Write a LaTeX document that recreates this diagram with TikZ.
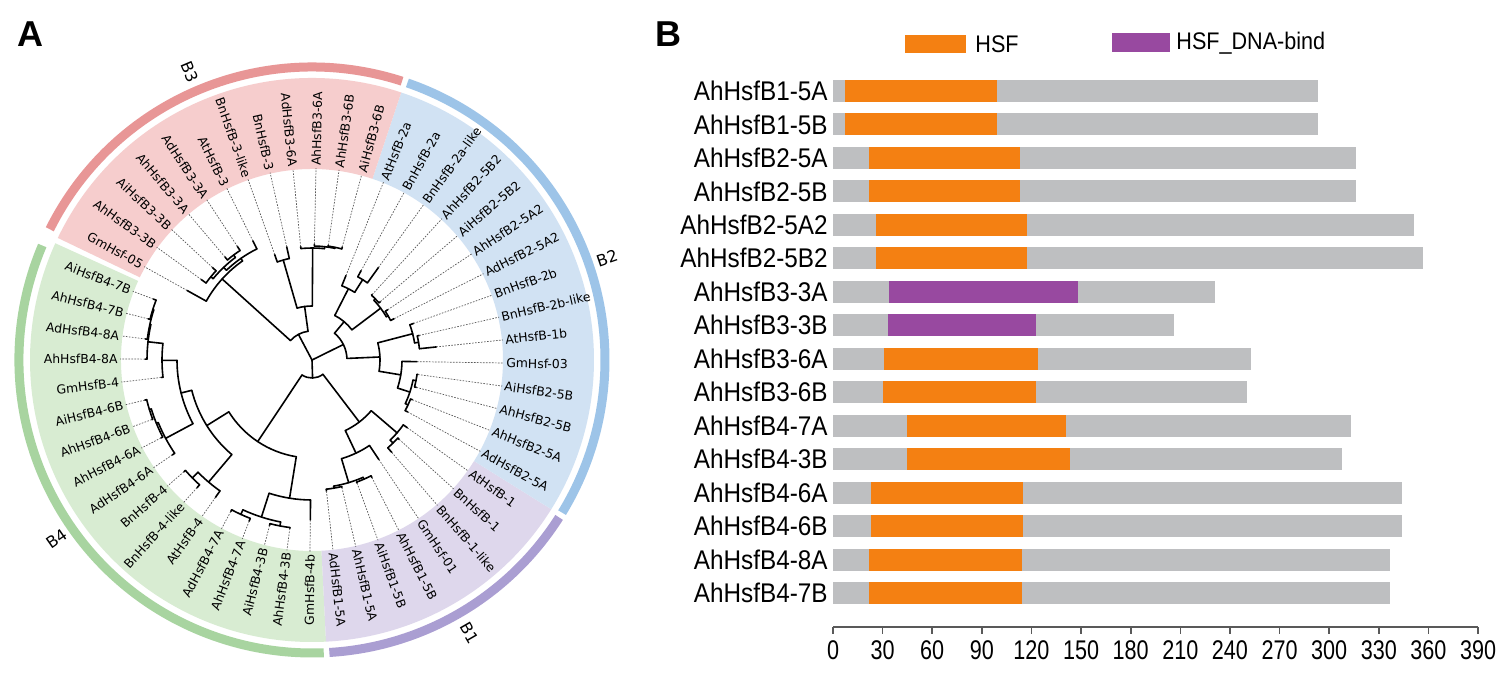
\documentclass[tikz,border=0pt]{standalone}
\usepackage{fontspec}
\setmainfont{DejaVu Sans}
\newfontfamily\arialn[FakeStretch=0.9]{Liberation Sans}
\newfontfamily\arialc[FakeStretch=0.8]{Liberation Sans}
\newfontfamily\arial{Liberation Sans}

\definecolor{ringBthree}{RGB}{232,150,150}
\definecolor{sectBthree}{RGB}{246,205,205}
\definecolor{ringBtwo}{RGB}{157,196,232}
\definecolor{sectBtwo}{RGB}{209,226,243}
\definecolor{ringBone}{RGB}{170,158,210}
\definecolor{sectBone}{RGB}{222,215,236}
\definecolor{ringBfour}{RGB}{168,212,160}
\definecolor{sectBfour}{RGB}{216,236,210}
\definecolor{hsf}{RGB}{244,128,18}
\definecolor{dnab}{RGB}{152,73,160}
\definecolor{barbg}{RGB}{190,191,193}

\tikzset{
  branch/.style={line width=0.8pt,line cap=round},
  tipline/.style={black!65,line width=0.35pt,dash pattern=on 0.8pt off 0.7pt},
  leaflab/.style={font=\fontsize{6.2}{7}\selectfont,inner sep=0pt},
  grplab/.style={font=\fontsize{8}{9}\selectfont,inner sep=0pt},
  rowlab/.style={font=\arialn\fontsize{13.5}{15}\selectfont,inner sep=0pt},
  ticklab/.style={font=\arialc\fontsize{13.5}{15}\selectfont,inner sep=0pt},
  panel/.style={font=\arial\bfseries\fontsize{18}{20}\selectfont,inner sep=0pt}
}

% angle of a leaf position on the circle
\newcommand{\leafang}[1]{159+6.9*(#1)}

% one clade: arc between two children, stem down to the parent
\newcommand{\clade}[4]{%
  \pgfmathsetmacro{\ca}{\leafang{#1}}%
  \pgfmathsetmacro{\cb}{\leafang{#2}}%
  \pgfmathsetmacro{\cm}{(\ca+\cb)/2}%
  \draw[branch] (\cm:#3) -- (\cm:#4);
  \draw[branch] (\ca:#4) arc[start angle=\ca,end angle=\cb,radius=#4];
}

% one leaf: branch, dotted guide, label
\newcommand{\leaf}[4]{%
  \pgfmathsetmacro{\la}{mod(\leafang{#1},360)}%
  \pgfmathtruncatemacro{\flip}{(\la>90 && \la<=270) ? 1 : 0}%
  \draw[branch] (\la:#2) -- (\la:#3);
  \draw[tipline] (\la:#3) -- (\la:192);
  \ifnum\flip=1
    \pgfmathsetmacro{\rot}{\la-180}%
    \node[leaflab,anchor=east,rotate=\rot] (lf#1) at (\la:194) {#4};
  \else
    \node[leaflab,anchor=west,rotate=\la] (lf#1) at (\la:194) {#4};
  \fi
}

% coloured sector behind the labels
\newcommand{\sector}[3]{%
  \fill[#3] (#1:191) arc[start angle=#1,end angle=#2,radius=191]
    -- (#2:282) arc[start angle=#2,end angle=#1,radius=282] -- cycle;
}

\begin{document}
\begin{tikzpicture}[x=0.5pt,y=0.5pt]
\fill[white] (0,0) rectangle (1510,675);
\useasboundingbox (0,0) rectangle (1510,675);

%% ---------- panel A ----------
\node[panel] (pA) at (30,641) {A};

\begin{scope}[shift={(312,315)}]
\sector{155.55}{272.85}{sectBfour}
\sector{272.85}{328.05}{sectBone}
\sector{328.05}{431.55}{sectBtwo}
\sector{431.55}{514.35}{sectBthree}

\draw[ringBfour,line width=4.5pt] (157:293) arc[start angle=157,end angle=272.3,radius=293];
\draw[ringBone,line width=4.5pt] (273.4:293) arc[start angle=273.4,end angle=327.5,radius=293];
\draw[ringBtwo,line width=4.5pt] (328.6:293) arc[start angle=328.6,end angle=431,radius=293];
\draw[ringBthree,line width=4.5pt] (432.1:293) arc[start angle=432.1,end angle=513.5,radius=293];

\node[grplab,rotate=-67] (gB3) at (113:313) {B3};
\node[grplab,rotate=19] (gB2) at (19:312) {B2};
\node[grplab,rotate=-60] (gB1) at (300:315) {B1};
\node[grplab,rotate=35] (gB4) at (215:312) {B4};

% B4
\clade{0}{1}{166}{167}
\clade{0.5}{2}{165}{166}
\clade{1.25}{3}{150}{165}
\clade{2.125}{4}{135}{150}
\clade{5}{6}{168}{170}
\clade{5.5}{7}{166}{168}
\clade{6.25}{8}{135}{166}
\clade{3.0625}{7.125}{124}{135}
\clade{9}{10}{160}{168}
\clade{9.5}{11}{124}{160}
\clade{5.09375}{10.25}{98}{124}
\clade{12}{13}{165}{170}
\clade{14}{15}{165}{169}
\clade{12.5}{14.5}{140}{165}
\clade{13.5}{16}{98}{140}
\clade{7.671875}{14.75}{18}{98}
% B1
\clade{17}{18}{128}{130}
\clade{19}{20}{128}{130}
\clade{17.5}{19.5}{103}{128}
\clade{18.5}{21}{78}{103}
\clade{22}{23}{112}{116}
\clade{22.5}{24}{78}{112}
\clade{19.75}{23.25}{18}{78}
\clade{11.2109375}{21.5}{0}{18}
% B2
\clade{25}{26}{103}{106}
\clade{27}{28}{103}{106}
\clade{25.5}{27.5}{90}{103}
\clade{26.5}{29}{68}{90}
\clade{30}{31}{104}{108}
\clade{30.5}{32}{68}{104}
\clade{27.75}{31.25}{35}{68}
\clade{33}{34}{86}{88}
\clade{35}{36}{86}{88}
\clade{33.5}{35.5}{50}{86}
\clade{37}{38}{80}{95}
\clade{37.5}{39}{50}{80}
\clade{34.5}{38.25}{35}{50}
\clade{29.5}{36.375}{0}{35}
% B3
\clade{40}{41}{114}{115}
\clade{40.5}{42}{112}{114}
\clade{41.25}{43}{54}{112}
\clade{44}{45}{54}{104}
\clade{42.125}{44.5}{29}{54}
\clade{47}{48}{128}{131}
\clade{49}{50}{128}{131}
\clade{47.5}{49.5}{124}{128}
\clade{46}{48.5}{121}{124}
\clade{47.25}{51}{29}{121}
\clade{43.3125}{49.125}{0}{29}

\leaf{0}{167}{170}{AiHsfB4-7B}
\leaf{1}{167}{169}{AhHsfB4-7B}
\leaf{2}{166}{168}{AdHsfB4-8A}
\leaf{3}{165}{167}{AhHsfB4-8A}
\leaf{4}{150}{152}{GmHsfB-4}
\leaf{5}{170}{172}{AiHsfB4-6B}
\leaf{6}{170}{171}{AhHsfB4-6B}
\leaf{7}{168}{170}{AhHsfB4-6A}
\leaf{8}{166}{169}{AdHsfB4-6A}
\leaf{9}{168}{170}{BnHsfB-4}
\leaf{10}{168}{172}{BnHsfB-4-like}
\leaf{11}{160}{168}{AtHsfB-4}
\leaf{12}{170}{172}{AdHsfB4-7A}
\leaf{13}{170}{173}{AhHsfB4-7A}
\leaf{14}{169}{171}{AiHsfB4-3B}
\leaf{15}{169}{170}{AhHsfB4-3B}
\leaf{16}{140}{160}{GmHsfB-4b}
\leaf{17}{130}{132}{AdHsfB1-5A}
\leaf{18}{130}{131}{AhHsfB1-5A}
\leaf{19}{130}{131}{AiHsfB1-5B}
\leaf{20}{130}{132}{AhHsfB1-5B}
\leaf{21}{103}{120}{GmHsf-01}
\leaf{22}{116}{122}{BnHsfB-1-like}
\leaf{23}{116}{118}{BnHsfB-1}
\leaf{24}{112}{117}{AtHsfB-1}
\leaf{25}{106}{109}{AdHsfB2-5A}
\leaf{26}{106}{108}{AhHsfB2-5A}
\leaf{27}{106}{108}{AhHsfB2-5B}
\leaf{28}{106}{107}{AiHsfB2-5B}
\leaf{29}{90}{105}{GmHsf-03}
\leaf{30}{108}{125}{AtHsfB-1b}
\leaf{31}{108}{110}{BnHsfB-2b-like}
\leaf{32}{104}{108}{BnHsfB-2b}
\leaf{33}{88}{92}{AdHsfB2-5A2}
\leaf{34}{88}{91}{AhHsfB2-5A2}
\leaf{35}{88}{90}{AiHsfB2-5B2}
\leaf{36}{88}{89}{AhHsfB2-5B2}
\leaf{37}{95}{114}{BnHsfB-2a-like}
\leaf{38}{95}{102}{BnHsfB-2a}
\leaf{39}{80}{91}{AtHsfB-2a}
\leaf{40}{115}{117}{AiHsfB3-6B}
\leaf{41}{115}{116}{AhHsfB3-6B}
\leaf{42}{114}{116}{AhHsfB3-6A}
\leaf{43}{112}{114}{AdHsfB3-6A}
\leaf{44}{104}{116}{BnHsfB-3}
\leaf{45}{104}{112}{BnHsfB-3-like}
\leaf{46}{124}{133}{AtHsfB-3}
\leaf{47}{131}{136}{AdHsfB3-3A}
\leaf{48}{131}{135}{AhHsfB3-3A}
\leaf{49}{131}{136}{AiHsfB3-3B}
\leaf{50}{131}{137}{AhHsfB3-3B}
\leaf{51}{121}{143}{GmHsf-05}
\end{scope}

%% ---------- panel B ----------
\node[panel] (pB) at (668,641) {B};

% legend
\fill[hsf] (905,622) rectangle (966,640);
\node[rowlab,font=\arialn\fontsize{12}{14}\selectfont,anchor=west] (lgA) at (975,631) {HSF};
\fill[dnab] (1112,623) rectangle (1170,642);
\node[rowlab,font=\arialn\fontsize{12}{14}\selectfont,anchor=west] (lgB) at (1176,632) {HSF\_DNA-bind};

% bars: name / length / domain start / domain end / colour
\foreach \name/\len/\ds/\de/\dc [count=\i from 0] in {
  AhHsfB1-5A/293/7/99/hsf,
  AhHsfB1-5B/293/7/99/hsf,
  AhHsfB2-5A/316/22/113/hsf,
  AhHsfB2-5B/316/22/113/hsf,
  AhHsfB2-5A2/351/26/117/hsf,
  AhHsfB2-5B2/357/26/117/hsf,
  AhHsfB3-3A/231/34/148/dnab,
  AhHsfB3-3B/206/33/123/dnab,
  AhHsfB3-6A/253/31/124/hsf,
  AhHsfB3-6B/250/30/123/hsf,
  AhHsfB4-7A/313/45/141/hsf,
  AhHsfB4-3B/308/45/143/hsf,
  AhHsfB4-6A/344/23/115/hsf,
  AhHsfB4-6B/344/23/115/hsf,
  AhHsfB4-8A/337/22/114/hsf,
  AhHsfB4-7B/337/22/114/hsf}{
  \pgfmathsetmacro{\yy}{584-33.47*\i}
  \fill[barbg] (833,\yy-11) rectangle ({833+1.654*\len},\yy+11);
  \fill[\dc] ({833+1.654*\ds},\yy-11) rectangle ({833+1.654*\de},\yy+11);
  \node[rowlab,anchor=east] (row\i) at (828,\yy) {\name};
}

% axis
\draw[gray!70!black,line width=0.8pt] (833,48) -- (1478,48);
\foreach \t in {0,30,...,390}{
  \draw[gray!70!black,line width=0.8pt] ({833+1.654*\t},48) -- ++(0,-7);
  \node[ticklab] (tk\t) at ({833+1.654*\t},25) {\t};
}
\end{tikzpicture}
\end{document}
